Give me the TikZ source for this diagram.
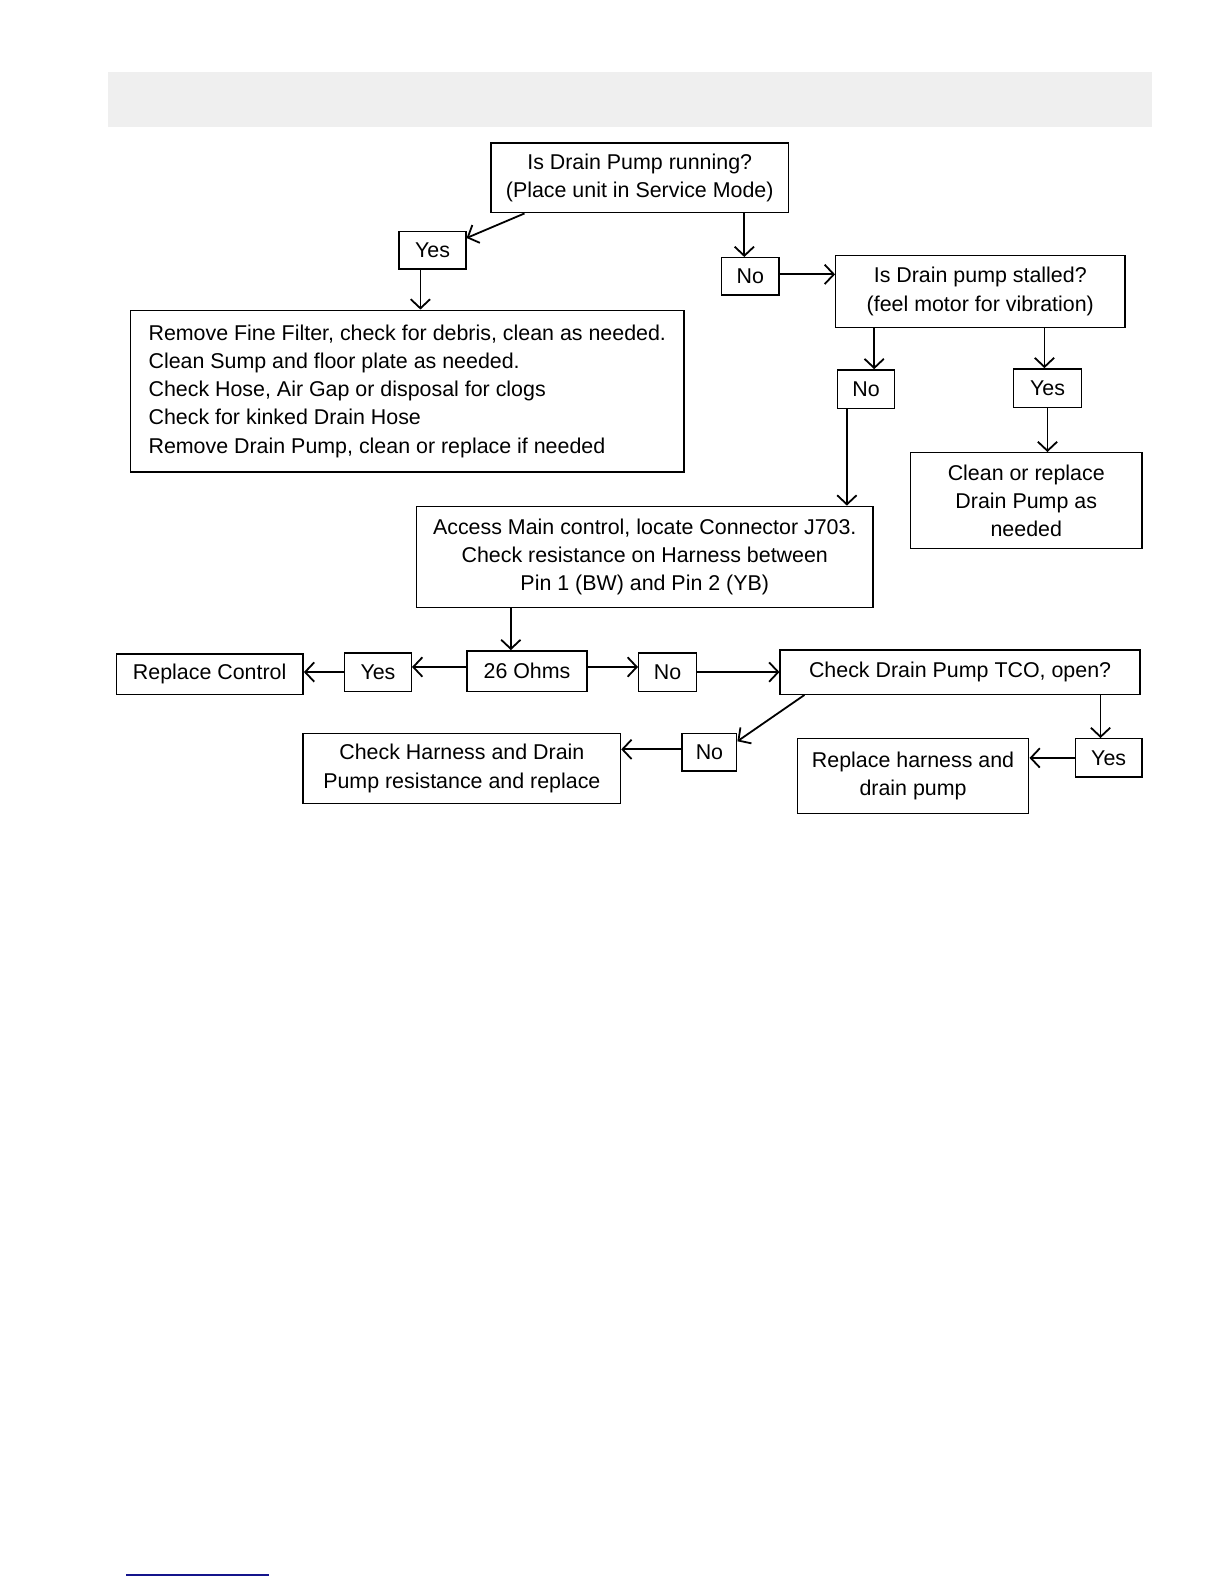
\documentclass[tikz,border=0pt]{standalone}
\usepackage{fontspec}
\setmainfont{Liberation Sans}
\usetikzlibrary{arrows.meta, calc, positioning}

\definecolor{balken}{RGB}{239,239,239}
\definecolor{linkblau}{RGB}{20,20,140}
\newdimen\px
\px=0.5053pt

\begin{document}
\begin{tikzpicture}[
    x=\px, y=-\px,
    box/.style={draw, line width=0.7pt, align=center, inner sep=1pt,
        font=\fontsize{10.7}{14.1}\selectfont},
    pfeil/.style={-{Straight Barb[length=1.6mm, width=3.4mm]}, line width=0.9pt}
]
\useasboundingbox (0,0) rectangle (1211.2,1567.4);

% Kopfbalken
\fill[balken] (107,71) rectangle (1140,126);

% Fragen und Antworten oben
\node[box, minimum width=294\px, minimum height=69\px] (q1) at (633,176)
    {Is Drain Pump running?\\(Place unit in Service Mode)};
\node[box, minimum width=66\px, minimum height=37\px] (yes1) at (428,247.5) {Yes};
\node[box, minimum width=57\px, minimum height=37\px] (no1) at (742.5,273.5) {No};
\node[box, minimum width=286\px, minimum height=71\px] (q2) at (970,288.5)
    {Is Drain pump stalled?\\(feel motor for vibration)};
\node[box, align=left, minimum width=548\px, minimum height=160\px] (remove) at (403,387)
    {Remove Fine Filter, check for debris, clean as needed.\\
     Clean Sump and floor plate as needed.\\
     Check Hose, Air Gap or disposal for clogs\\
     Check for kinked Drain Hose\\
     Remove Drain Pump, clean or replace if needed};
\node[box, minimum width=56\px, minimum height=38\px] (no2) at (857,385) {No};
\node[box, minimum width=67\px, minimum height=38\px] (yes2) at (1036.5,384) {Yes};
\node[box, minimum width=229\px, minimum height=95\px] (clean) at (1015.5,495.5)
    {Clean or replace\\Drain Pump as\\needed};

% Widerstandsmessung
\node[box, minimum width=452\px, minimum height=100\px] (access) at (638,551)
    {Access Main control, locate Connector J703.\\
     Check resistance on Harness between\\
     Pin 1 (BW) and Pin 2 (YB)};
\node[box, minimum width=119\px, minimum height=40\px] (ohms) at (521.5,664) {26 Ohms};
\node[box, minimum width=66\px, minimum height=38\px] (yes3) at (374,665) {Yes};
\node[box, minimum width=185\px, minimum height=40\px] (repctrl) at (207.5,667) {Replace Control};
\node[box, minimum width=57\px, minimum height=38\px] (no3) at (660.5,665) {No};
\node[box, minimum width=356\px, minimum height=44\px] (tco) at (950,665) {Check Drain Pump TCO, open?};
\node[box, minimum width=54\px, minimum height=37\px] (no4) at (702,744.5) {No};
\node[box, minimum width=314\px, minimum height=69\px] (checkh) at (457,760.5)
    {Check Harness and Drain\\Pump resistance and replace};
\node[box, minimum width=66\px, minimum height=38\px] (yes4) at (1097,750) {Yes};
\node[box, minimum width=229\px, minimum height=74\px] (reph) at (903.5,768)
    {Replace harness and\\drain pump};

% Verbindungen
\draw[pfeil] ([xshift=-114\px]q1.south) -- ([yshift=12\px]yes1.east);
\draw[pfeil] ([xshift=-6\px]no1.north |- q1.south) -- ([xshift=-6\px]no1.north);
\draw[pfeil] ([xshift=-12\px]yes1.south) -- ([xshift=-12\px]yes1.south |- remove.north);
\draw[pfeil] ([yshift=2\px]no1.east) -- ([yshift=2\px]no1.east -| q2.west);
\draw[pfeil] ([xshift=8\px]no2.north |- q2.south) -- ([xshift=8\px]no2.north);
\draw[pfeil] ([xshift=-3\px]yes2.north |- q2.south) -- ([xshift=-3\px]yes2.north);
\draw[pfeil] ([xshift=-19\px]no2.south) -- ([xshift=-19\px]no2.south |- access.north);
\draw[pfeil] (yes2.south) -- (yes2.south |- clean.north);
\draw[pfeil] ([xshift=-16\px]ohms.north |- access.south) -- ([xshift=-16\px]ohms.north);
\draw[pfeil] ([yshift=4\px]ohms.west) -- ([yshift=4\px]ohms.west -| yes3.east);
\draw[pfeil] (yes3.west) -- (yes3.west -| repctrl.east);
\draw[pfeil] ([yshift=4\px]ohms.east) -- ([yshift=4\px]ohms.east -| no3.west);
\draw[pfeil] (no3.east) -- (no3.east -| tco.west);
\draw[pfeil] ([xshift=-154\px]tco.south) -- ([yshift=11\px]no4.east);
\draw[pfeil] ([yshift=3\px]no4.west) -- ([yshift=3\px]no4.west -| checkh.east);
\draw[pfeil] ([xshift=-8\px]yes4.north |- tco.south) -- ([xshift=-8\px]yes4.north);
\draw[pfeil] (yes4.west) -- (yes4.west -| reph.east);

% Linie unten
\draw[linkblau, line width=1pt] (125,1558) -- (266,1558);

\end{tikzpicture}
\end{document}
